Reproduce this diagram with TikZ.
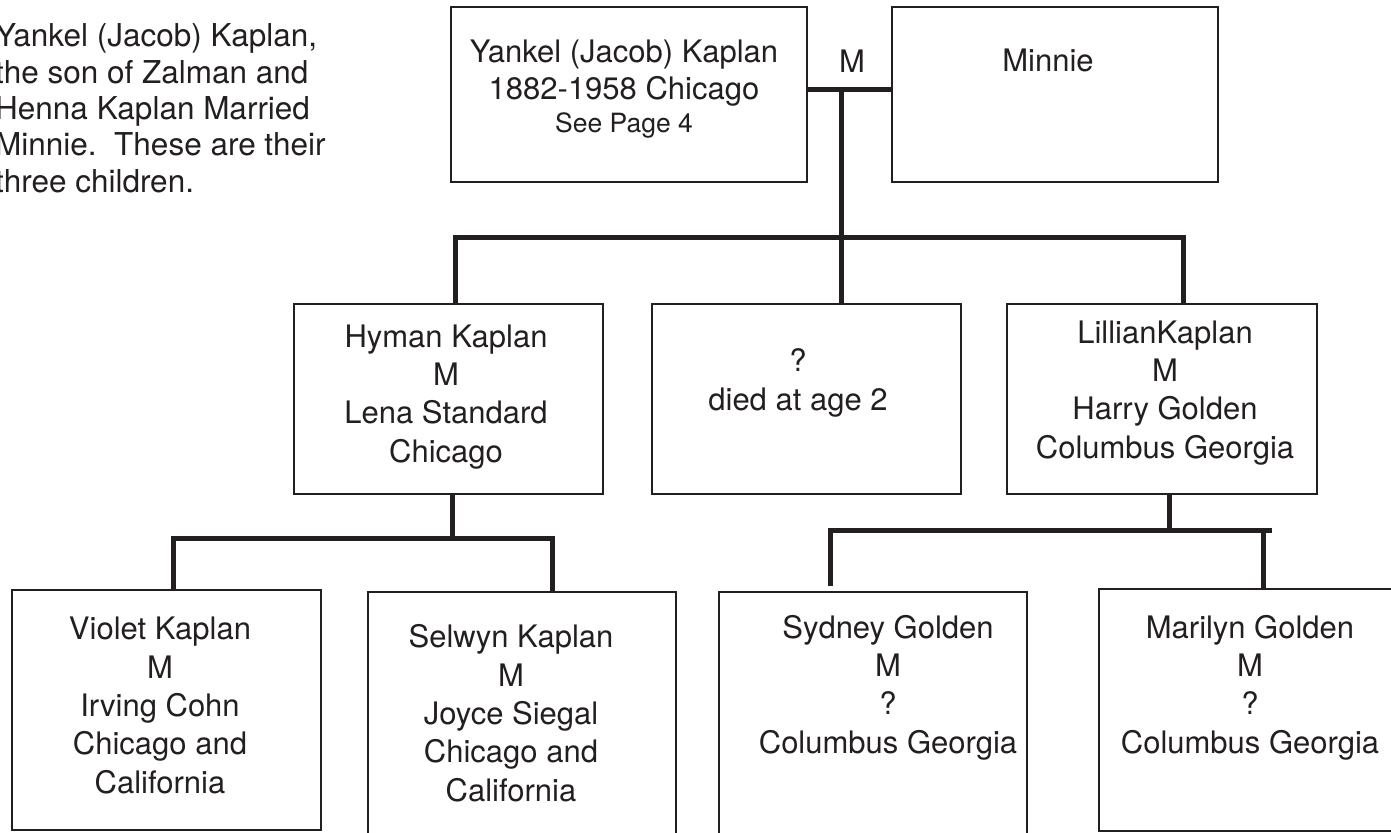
\documentclass[tikz,border=0pt]{standalone}
\usepackage{fontspec}
\setmainfont{TeX Gyre Heros}
\definecolor{ink}{RGB}{35,31,32}
\newcommand\famBox[5]{\node[famboxstyle, anchor=north west, minimum width=#4pt, minimum height=#5pt] (#1) at (#2,#3) {};}
\begin{document}
\begin{tikzpicture}[x=1pt,y=-1pt,
  famboxstyle/.style={draw=ink, line width=2.2pt, inner sep=0pt, outer sep=0pt},
  conn/.style={draw=ink, line width=5pt, line join=miter},
  txt/.style={font=\fontsize{31}{38.3}\selectfont, align=center, anchor=base, inner sep=0pt, text=ink},
  note/.style={font=\fontsize{31.5}{36.3}\selectfont, align=left, anchor=base west, inner sep=0pt, text=ink}]
\useasboundingbox (0,0) rectangle (1391,832);
\fill[white] (0,0) rectangle (1391,832);

% boxes
\famBox{yankel}{451}{7}{356}{175}
\famBox{minnie}{892}{7}{326}{175}
\famBox{hyman}{294}{304}{309}{190}
\famBox{died}{652}{304}{309}{190}
\famBox{lillian}{1007}{304}{310}{190}
\famBox{violet}{12}{590}{309}{240}
\famBox{selwyn}{368}{592}{308}{260}
\famBox{sydney}{719}{592}{308}{260}
\famBox{marilyn}{1099}{589}{310}{242}

% junction coordinates
\coordinate (mj) at (841,90);
\coordinate (bar) at (841,237);
\coordinate (hyj) at (455,237);
\coordinate (lij) at (1183,237);
\coordinate (hyd) at (452,538);
\coordinate (vij) at (173,538);
\coordinate (sej) at (552,538);
\coordinate (lid) at (1169,530);
\coordinate (syj) at (830,530);
\coordinate (syend) at (830,586);
\coordinate (maj) at (1263,530);
\coordinate (lend) at (1272,530);

% connectors
\draw[conn] (yankel.east |- mj) -- (minnie.west |- mj);
\draw[conn] (mj) -- (bar);
\draw[conn] (hyj |- hyman.north) -- (hyj) -- (lij) -- (lij |- lillian.north);
\draw[conn] (bar) -- (bar |- died.north);
\draw[conn] (hyd |- hyman.south) -- (hyd);
\draw[conn] (vij |- violet.north) -- (vij) -- (sej) -- (sej |- selwyn.north);
\draw[conn] (lid |- lillian.south) -- (lid);
\draw[conn] (syend) -- (syj) -- (lend);
\draw[conn] (maj) -- (maj |- marilyn.north);

% texts (base anchor = baseline of the last line)
\node[note] (intro) at (-5,192) {Yankel (Jacob) Kaplan,\\the son of Zalman and\\Henna Kaplan Married\\Minnie.\ \ These are their\\three children.};
\node[txt, font=\fontsize{31}{37}\selectfont] (tyankel) at (624,100) {Yankel (Jacob) Kaplan\\1882-1958 Chicago};
\node[txt, font=\fontsize{26.5}{30}\selectfont] (tpage) at (624,132) {See Page 4};
\node[txt] (tm) at (852,73) {M};
\node[txt] (tminnie) at (1048,72) {Minnie};
\node[txt] (thyman) at (446,462) {Hyman Kaplan\\M\\Lena Standard\\Chicago};
\node[txt] (tdied) at (798,410) {?\\died at age 2};
\node[txt] (tlillian) at (1165,458) {LillianKaplan\\M\\Harry Golden\\Columbus Georgia};
\node[txt] (tviolet) at (160,793) {Violet Kaplan\\M\\Irving Cohn\\Chicago and\\California};
\node[txt] (tselwyn) at (511,801) {Selwyn Kaplan\\M\\Joyce Siegal\\Chicago and\\California};
\node[txt] (tsydney) at (888,753) {Sydney Golden\\M\\?\\Columbus Georgia};
\node[txt] (tmarilyn) at (1250,753) {Marilyn Golden\\M\\?\\Columbus Georgia};
\end{tikzpicture}
\end{document}
